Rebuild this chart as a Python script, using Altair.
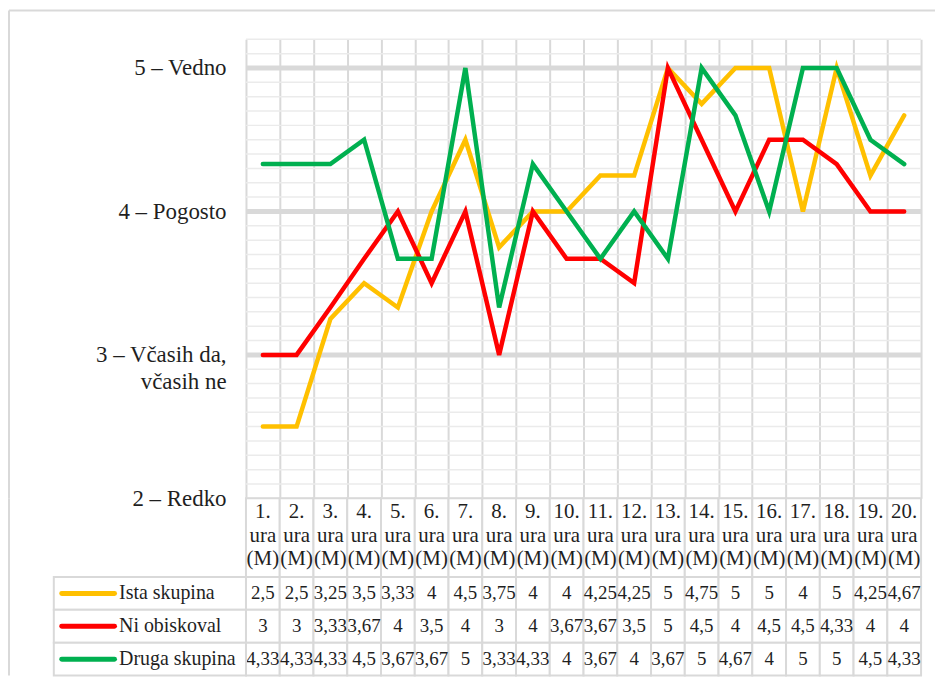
import altair as alt
import pandas as pd

# ---------------- data ----------------
hours = ["1. ura (M)", "2. ura (M)", "3. ura (M)", "4. ura (M)", "5. ura (M)",
         "6. ura (M)", "7. ura (M)", "8. ura (M)", "9. ura (M)", "10. ura (M)",
         "11. ura (M)", "12. ura (M)", "13. ura (M)", "14. ura (M)", "15. ura (M)",
         "16. ura (M)", "17. ura (M)", "18. ura (M)", "19. ura (M)", "20. ura (M)"]
series_names = ["Ista skupina", "Ni obiskoval", "Druga skupina"]
ista = [2.5, 2.5, 3.25, 3.5, 3.33, 4, 4.5, 3.75, 4, 4, 4.25, 4.25, 5, 4.75, 5, 5, 4, 5, 4.25, 4.67]
ni = [3, 3, 3.33, 3.67, 4, 3.5, 4, 3, 4, 3.67, 3.67, 3.5, 5, 4.5, 4, 4.5, 4.5, 4.33, 4, 4]
druga = [4.33, 4.33, 4.33, 4.5, 3.67, 3.67, 5, 3.33, 4.33, 4, 3.67, 4, 3.67, 5, 4.67, 4, 5, 5, 4.5, 4.33]
y_tick_values = [2, 3, 4, 5]
y_tick_labels = ["2 – Redko", "3 – Včasih da,|včasih ne", "4 – Pogosto", "5 – Vedno"]
colors = ["#FFC000", "#FF0000", "#00B050"]

rows = []
for s, vals in zip(series_names, [ista, ni, druga]):
    for h, v in zip(hours, vals):
        rows.append({"series": s, "hour": h, "value": v})
df = pd.DataFrame(rows)

# ---------------- layout constants ----------------
W = 678
H_A = 461
H_B = 79
H_C = 99
FONT = "Liberation Serif"
TXT = "#1f1f1f"
GRID = "#d9d9d9"
MINOR = "#ebebeb"
LEFT_BORDER = -238

label_expr = "split(" + "".join(
    f"datum.value == {v} ? '{l}' : " for v, l in zip(y_tick_values, y_tick_labels)
) + "'', '|')"

band = alt.Scale(type="band", paddingInner=0, paddingOuter=0)
x_axis = alt.Axis(title=None, labels=False, ticks=False, domain=False, grid=True,
                  tickBand="extent", gridColor=GRID, gridWidth=2)
y_scale = alt.Scale(domain=[2, 5.2], nice=False, zero=False)
y_axis = alt.Axis(title=None, values=y_tick_values, labelExpr=label_expr, grid=False,
                  ticks=False, domain=False, labelFont=FONT, labelFontSize=23,
                  labelColor=TXT, labelPadding=20, labelAlign="right",
                  labelBaseline="middle", labelLineHeight=27)

one = pd.DataFrame({"k": [0]})

# ---------------- chart A: lines ----------------
minor = alt.Chart(alt.sequence(20, 53, 1, as_="k")).transform_calculate(
    v="datum.k / 10"
).mark_rule(color=MINOR, strokeWidth=1.5).encode(
    y=alt.Y("v:Q", scale=y_scale, axis=y_axis)
)
major = alt.Chart(pd.DataFrame({"v": y_tick_values})).transform_filter(
    "datum.v > 2"
).mark_rule(color=GRID, strokeWidth=5).encode(
    y=alt.Y("v:Q", scale=y_scale, axis=y_axis)
)
line_layers = []
for s, c in zip(series_names, colors):
    line_layers.append(
        alt.Chart(df).transform_filter(alt.datum.series == s).mark_line(
            color=c, strokeWidth=4.5, strokeCap="round", strokeJoin="miter"
        ).encode(
            x=alt.X("hour:N", sort=hours, scale=band, bandPosition=0.5, axis=x_axis),
            y=alt.Y("value:Q", scale=y_scale, axis=y_axis),
        )
    )
top_border = alt.Chart(one).mark_rule(color=GRID, strokeWidth=2).encode(
    x=alt.value(LEFT_BORDER), x2=alt.value(W + 14), y=alt.value(-29)
)
left_border_a = alt.Chart(one).mark_rule(color=GRID, strokeWidth=2).encode(
    x=alt.value(LEFT_BORDER), y=alt.value(-29), y2=alt.value(H_A)
)
chart_a = alt.layer(minor, major, *line_layers, top_border, left_border_a).properties(
    width=W, height=H_A
)

# ---------------- chart B: header row ----------------
hdr = alt.Chart(pd.DataFrame({"hour": hours}))
x_b = alt.X("hour:N", sort=hours, scale=band, axis=None)
hdr_cells = hdr.mark_rect(fill="white", stroke=GRID, strokeWidth=2).encode(
    x=x_b, y=alt.value(0), y2=alt.value(H_B)
)
hdr_text = hdr.transform_calculate(lines="split(datum.hour, ' ')").mark_text(
    font=FONT, fontSize=21, lineHeight=23.5, baseline="middle", color=TXT
).encode(x=x_b, y=alt.value(14), text="lines:N")
left_border_b = alt.Chart(one).mark_rule(color=GRID, strokeWidth=2).encode(
    x=alt.value(LEFT_BORDER), y=alt.value(0), y2=alt.value(H_B)
)
chart_b = alt.layer(hdr_cells, hdr_text, left_border_b).properties(width=W, height=H_B)

# ---------------- chart C: data table ----------------
y_c_axis = alt.Axis(title=None, ticks=False, domain=False, grid=False, labelFont=FONT,
                    labelFontSize=20, labelColor=TXT, labelAlign="left",
                    labelPadding=128, zindex=2)
y_c = alt.Y("series:N", sort=series_names, scale=band, axis=y_c_axis)
tbl = alt.Chart(df)
cells = tbl.mark_rect(fill="white", stroke=GRID, strokeWidth=2).encode(
    x=x_b, y=y_c
)
vals = tbl.transform_calculate(
    lbl="replace(toString(datum.value), '.', ',')"
).mark_text(font=FONT, fontSize=19, color=TXT, baseline="middle").encode(
    x=x_b, y=y_c, text="lbl:N"
)
ser = alt.Chart(pd.DataFrame({"series": series_names}))
legend_box = ser.mark_rect(fill="white", stroke=GRID, strokeWidth=2).encode(
    x=alt.value(-193), x2=alt.value(0), y=y_c
)
swatch = ser.mark_rule(strokeWidth=5, strokeCap="round").encode(
    x=alt.value(-185), x2=alt.value(-132), y=y_c,
    color=alt.Color("series:N", scale=alt.Scale(domain=series_names, range=colors), legend=None),
)
left_border_c = alt.Chart(one).mark_rule(color=GRID, strokeWidth=2).encode(
    x=alt.value(LEFT_BORDER), y=alt.value(0), y2=alt.value(H_C)
)
chart_c = alt.layer(cells, vals, legend_box, swatch, left_border_c).properties(
    width=W, height=H_C
)

chart = alt.vconcat(chart_a, chart_b, chart_c, spacing=0, bounds="flush").properties(
    padding={"left": 0, "top": 0, "right": 0, "bottom": 0},
    background="white",
).configure_view(stroke=None)

chart.save("out.html", embed_options={"renderer": "svg", "actions": False})
